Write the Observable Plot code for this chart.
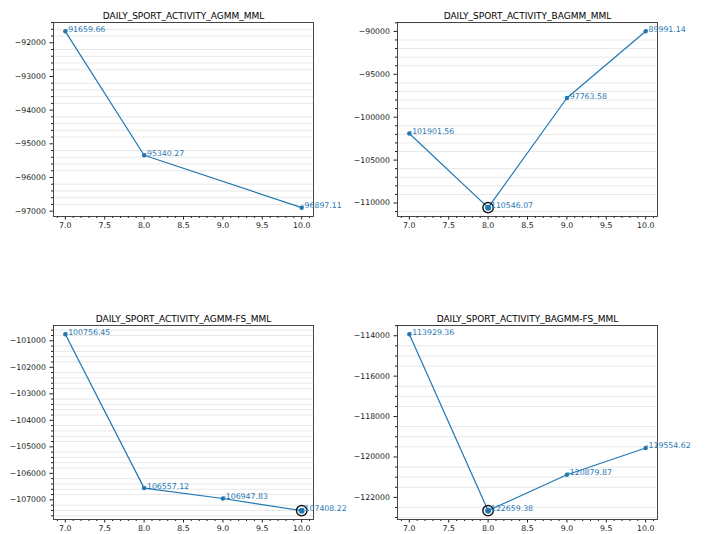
<!DOCTYPE html>
<html>
<head>
<meta charset="utf-8">
<script src="https://cdn.jsdelivr.net/npm/d3@7"></script>
<script src="https://cdn.jsdelivr.net/npm/@observablehq/plot@0.6"></script>
<style>
  html, body { margin: 0; padding: 0; background: #fff; }
  #root { position: relative; width: 712px; height: 534px; background: #fff; overflow: hidden; }
  #root > div { position: absolute; }
  svg { overflow: visible; }
</style>
</head>
<body>
<div id="root"></div>
<script>
// ---- data ----
const titles = [
  "DAILY_SPORT_ACTIVITY_AGMM_MML",
  "DAILY_SPORT_ACTIVITY_BAGMM_MML",
  "DAILY_SPORT_ACTIVITY_AGMM-FS_MML",
  "DAILY_SPORT_ACTIVITY_BAGMM-FS_MML"
];
const xAGMM = [7, 8, 10];
const yAGMM = [-91659.66, -95340.27, -96897.11];
const xBAGMM = [7, 8, 9, 10];
const yBAGMM = [-101901.56, -110546.07, -97763.58, -89991.14];
const xAGMMFS = [7, 8, 9, 10];
const yAGMMFS = [-100756.45, -106557.12, -106947.83, -107408.22];
const xBAGMMFS = [7, 8, 9, 10];
const yBAGMMFS = [-113929.36, -122659.38, -120879.87, -119554.62];
const highlightX = [null, 8, 10, 8];

const xTicks = [7, 7.5, 8, 8.5, 9, 9.5, 10];
const yTicksAGMM = [-92000, -93000, -94000, -95000, -96000, -97000];
const yTicksBAGMM = [-90000, -95000, -100000, -105000, -110000];
const yTicksAGMMFS = [-101000, -102000, -103000, -104000, -105000, -106000, -107000];
const yTicksBAGMMFS = [-114000, -116000, -118000, -120000, -122000];
const yMinorStep = [200, 1000, 200, 500];

// ---- layout ----
const panels = [
  {xs: xAGMM, ys: yAGMM, yTicks: yTicksAGMM, left: 0, top: 0, ml: 53, mr: 43, mt: 22, mb: 24},
  {xs: xBAGMM, ys: yBAGMM, yTicks: yTicksBAGMM, left: 356, top: 0, ml: 41, mr: 55, mt: 22, mb: 24},
  {xs: xAGMMFS, ys: yAGMMFS, yTicks: yTicksAGMMFS, left: 0, top: 300, ml: 53, mr: 43, mt: 25, mb: 21},
  {xs: xBAGMMFS, ys: yBAGMMFS, yTicks: yTicksBAGMMFS, left: 356, top: 300, ml: 41, mr: 55, mt: 25, mb: 21}
];

const blue = "#1f77b4";
const fmtY = d => (d < 0 ? "\u2212" : "") + Math.abs(d);
const root = document.getElementById("root");

panels.forEach((p, i) => {
  const data = p.xs.map((x, j) => ({x, y: p.ys[j], label: p.ys[j].toFixed(2)}));
  const [y0, y1] = d3.extent(p.ys);
  const pad = (y1 - y0) * 0.05;
  const yDomain = [y0 - pad, y1 + pad];
  const xDomain = [6.85, 10.15];
  const step = yMinorStep[i];
  const yMinor = d3.range(Math.ceil(yDomain[0] / step) * step, yDomain[1], step)
    .filter(v => Math.abs(v % (p.yTicks[0] - p.yTicks[1])) > 1e-6);
  const xMinor = d3.range(6.9, 10.15, 0.1).map(v => Math.round(v * 10) / 10)
    .filter(v => Math.abs((v * 2) - Math.round(v * 2)) > 1e-6);
  const best = data.filter(d => d.x === highlightX[i]);

  const chart = Plot.plot({
    width: 356,
    height: 240,
    marginLeft: p.ml,
    marginRight: p.mr,
    marginTop: p.mt,
    marginBottom: p.mb,
    x: {domain: xDomain},
    y: {domain: yDomain},
    style: {fontFamily: "DejaVu Sans", fontSize: "7.8px", color: "#222", background: "transparent", overflow: "visible"},
    marks: [
      Plot.gridY(yMinor, {stroke: "#e8e8e8", strokeOpacity: 1, strokeWidth: 1}),
      Plot.axisX({ticks: xTicks, tickSize: 3.5, tickPadding: 2.5, tickFormat: d => d.toFixed(1), label: null}),
      Plot.axisX({ticks: xMinor, tickSize: 2, tickFormat: () => "", label: null}),
      Plot.axisY({ticks: p.yTicks, tickSize: 3.5, tickPadding: 4, tickFormat: fmtY, label: null}),
      Plot.axisY({ticks: yMinor, tickSize: 2, tickFormat: () => "", label: null}),
      Plot.frame({stroke: "#333", strokeWidth: 0.9}),
      Plot.line(data, {x: "x", y: "y", stroke: blue, strokeWidth: 1.2}),
      Plot.dot(data, {x: "x", y: "y", r: 2.2, fill: blue}),
      Plot.dot(best, {x: "x", y: "y", r: 3, fill: blue}),
      Plot.dot(best, {x: "x", y: "y", r: 5.2, stroke: "#111", strokeWidth: 1.4, fill: "none"}),
      Plot.text(data, {x: "x", y: "y", text: "label", fill: blue, textAnchor: "start", lineAnchor: "bottom", dy: 0.5, fontSize: 7.8}),
      Plot.text([titles[i]], {frameAnchor: "top", dy: -4, lineAnchor: "bottom", fontSize: 9, fill: "#000"})
    ]
  });
  const holder = document.createElement("div");
  holder.style.left = p.left + "px";
  holder.style.top = p.top + "px";
  holder.appendChild(chart);
  root.appendChild(holder);
});
</script>
</body>
</html>
